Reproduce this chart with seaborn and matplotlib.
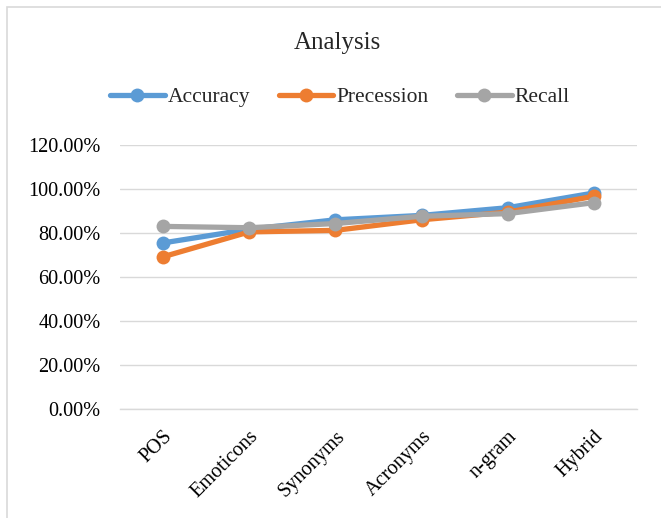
import matplotlib
matplotlib.use("Agg")
import matplotlib.pyplot as plt
import matplotlib.patches as mpatches
import seaborn as sns
import pandas as pd
from matplotlib.ticker import FuncFormatter

categories = ["POS", "Emoticons", "Synonyms", "Acronyms", "n-gram", "Hybrid"]
accuracy = [0.755, 0.817, 0.860, 0.880, 0.915, 0.982]
precession = [0.692, 0.805, 0.812, 0.860, 0.895, 0.967]
recall = [0.830, 0.824, 0.843, 0.876, 0.888, 0.938]
series_names = ["Accuracy", "Precession", "Recall"]
yticks = [0.0, 0.2, 0.4, 0.6, 0.8, 1.0, 1.2]

colors = ["#5B9BD5", "#ED7D31", "#A5A5A5"]

df = pd.DataFrame({
    "category": categories * 3,
    "x": list(range(len(categories))) * 3,
    "value": accuracy + precession + recall,
    "series": [s for s in series_names for _ in categories],
})

sns.set_theme(style="white")
plt.rcParams["font.family"] = ["Liberation Serif", "DejaVu Serif"]

fig = plt.figure(figsize=(6.61, 5.18), dpi=100)
ax = fig.add_axes([120 / 661, 1 - 409 / 518, 517 / 661, 264 / 518])

sns.lineplot(data=df, x="x", y="value", hue="series", palette=colors,
             hue_order=series_names, marker="o", markersize=10,
             markeredgewidth=0, linewidth=3.8, ax=ax, sort=False)

ax.set_xlim(-0.5, len(categories) - 0.5)
ax.set_ylim(0, 1.2)
ax.set_yticks(yticks)
ax.yaxis.set_major_formatter(FuncFormatter(lambda v, _: f"{v * 100:.2f}%"))
ax.set_xticks(range(len(categories)))
ax.set_xticklabels(categories, rotation=45, ha="right", rotation_mode="anchor")
ax.tick_params(axis="both", labelsize=14.6, colors="#000000", length=0)
ax.tick_params(axis="y", pad=14)
ax.tick_params(axis="x", pad=13)
ax.set_xlabel("")
ax.set_ylabel("")
ax.grid(axis="y", color="#D9D9D9", linewidth=1)
ax.set_axisbelow(True)
for side in ["top", "right", "left"]:
    ax.spines[side].set_visible(False)
ax.spines["bottom"].set_color("#D9D9D9")
ax.spines["bottom"].set_linewidth(1)

handles, labels = ax.get_legend_handles_labels()
ax.legend(handles, labels, loc="center", bbox_to_anchor=(340 / 661, 1 - 97 / 518),
          bbox_transform=fig.transFigure, ncol=3, frameon=False, fontsize=15.5,
          handlelength=2.55, columnspacing=1.3, handletextpad=0.15)

fig.text(337 / 661, 1 - 43 / 518, "Analysis", ha="center", va="center", fontsize=18)

fig.patches.append(mpatches.Rectangle((7 / 661, -0.1), 1.2, 1 - 7 / 518 + 0.1,
                                      transform=fig.transFigure, fill=False,
                                      edgecolor="#D9D9D9", linewidth=1.2))

fig.savefig("out.png", dpi=100, facecolor="white")
